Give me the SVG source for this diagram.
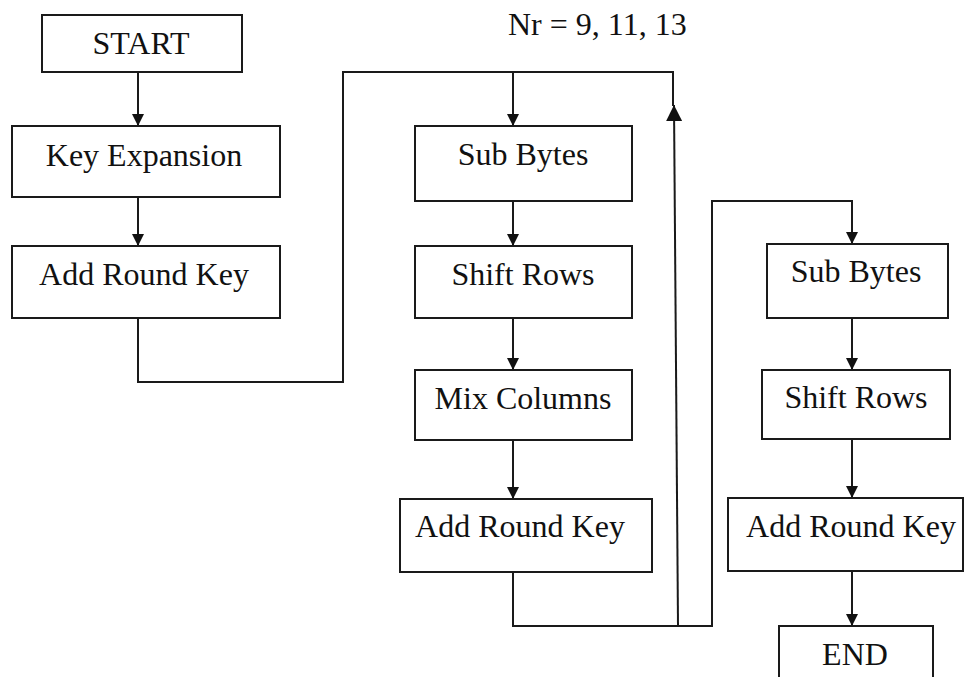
<svg xmlns="http://www.w3.org/2000/svg" width="964" height="677" viewBox="0 0 964 677">
  <style>
    .box { fill: #ffffff; stroke: #1a1a1a; stroke-width: 2; }
    .lbl { font-family: "Liberation Serif", "Times New Roman", serif; font-size: 32px; fill: #111111; text-anchor: middle; }
    .wire { fill: none; stroke: #1a1a1a; stroke-width: 2; }
  </style>
  <defs>
    <marker id="arrow" viewBox="0 0 12 12" refX="12" refY="6" markerWidth="12" markerHeight="12" markerUnits="userSpaceOnUse" orient="auto">
      <path d="M0,0 L12,6 L0,12 z" fill="#111111"/>
    </marker>
    <marker id="arrowBig" viewBox="0 0 16 16" refX="16" refY="8" markerWidth="16" markerHeight="16" markerUnits="userSpaceOnUse" orient="auto">
      <path d="M0,0 L16,8 L0,16 z" fill="#111111"/>
    </marker>
  </defs>
  <rect width="964" height="677" fill="#ffffff"/>

  <!-- round count label -->
  <text class="lbl" x="508" y="35" style="text-anchor:start">Nr = 9, 11, 13</text>

  <!-- connectors -->
  <g id="connectors">
    <path class="wire" d="M138,72 V126" marker-end="url(#arrow)"/>
    <path class="wire" d="M138,197 V246" marker-end="url(#arrow)"/>
    <path class="wire" d="M138,318 V382 H343 V72 H673 V106"/>
    <path class="wire" d="M513,72 V126" marker-end="url(#arrow)"/>
    <path class="wire" d="M513,201 V246" marker-end="url(#arrow)"/>
    <path class="wire" d="M513,318 V370" marker-end="url(#arrow)"/>
    <path class="wire" d="M513,440 V499" marker-end="url(#arrow)"/>
    <path class="wire" d="M513,572 V626 H712 V201 H852 V244" marker-end="url(#arrow)"/>
    <path class="wire" d="M678,626 L674,105" marker-end="url(#arrowBig)"/>
    <path class="wire" d="M852,318 V370" marker-end="url(#arrow)"/>
    <path class="wire" d="M852,439 V498" marker-end="url(#arrow)"/>
    <path class="wire" d="M852,571 V626" marker-end="url(#arrow)"/>
  </g>

  <!-- initial stage -->
  <g id="start">
    <rect class="box" x="42" y="15" width="200" height="57"/>
    <text class="lbl" x="141" y="54">START</text>
  </g>
  <g id="key-expansion">
    <rect class="box" x="12" y="126" width="268" height="71"/>
    <text class="lbl" x="144" y="166">Key Expansion</text>
  </g>
  <g id="add-round-key-initial">
    <rect class="box" x="12" y="246" width="268" height="72"/>
    <text class="lbl" x="144" y="285">Add Round Key</text>
  </g>

  <!-- main rounds -->
  <g id="sub-bytes-round">
    <rect class="box" x="415" y="126" width="217" height="75"/>
    <text class="lbl" x="523" y="165">Sub Bytes</text>
  </g>
  <g id="shift-rows-round">
    <rect class="box" x="415" y="246" width="217" height="72"/>
    <text class="lbl" x="523" y="285">Shift Rows</text>
  </g>
  <g id="mix-columns">
    <rect class="box" x="415" y="370" width="217" height="70"/>
    <text class="lbl" x="523" y="409">Mix Columns</text>
  </g>
  <g id="add-round-key-round">
    <rect class="box" x="400" y="499" width="252" height="73"/>
    <text class="lbl" x="520" y="537">Add Round Key</text>
  </g>

  <!-- final round -->
  <g id="sub-bytes-final">
    <rect class="box" x="767" y="244" width="181" height="74"/>
    <text class="lbl" x="856" y="282">Sub Bytes</text>
  </g>
  <g id="shift-rows-final">
    <rect class="box" x="762" y="370" width="188" height="69"/>
    <text class="lbl" x="856" y="408">Shift Rows</text>
  </g>
  <g id="add-round-key-final">
    <rect class="box" x="728" y="498" width="235" height="73"/>
    <text class="lbl" x="851" y="537">Add Round Key</text>
  </g>
  <g id="end">
    <rect class="box" x="779" y="626" width="154" height="60"/>
    <text class="lbl" x="855" y="665">END</text>
  </g>
</svg>
